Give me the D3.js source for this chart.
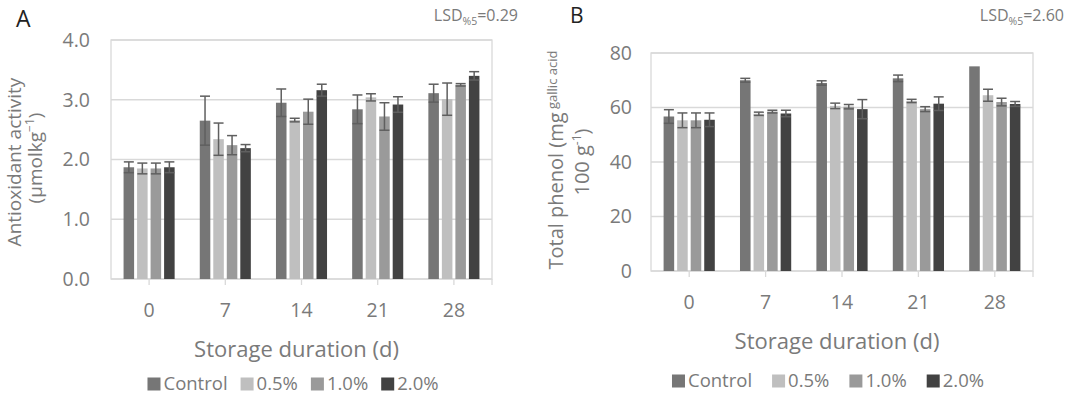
<!DOCTYPE html>
<html>
<head>
<meta charset="utf-8">
<script src="https://cdn.jsdelivr.net/npm/d3@7"></script>
<style>
  body { margin: 0; background: #fff; }
  svg { font-family: "Open Sans", sans-serif; }
</style>
</head>
<body>
<svg id="chart" width="1072" height="396"></svg>
<script>
// storage days (categories) and treatments (series)
const days = ['0', '7', '14', '21', '28'];
const treatments = ['Control', '0.5%', '1.0%', '2.0%'];

// A - antioxidant activity (µmol kg-1)
const antioxControl = [1.87, 2.65, 2.95, 2.84, 3.11];
const antioxHalf    = [1.85, 2.34, 2.66, 3.04, 3.01];
const antioxOne     = [1.85, 2.24, 2.80, 2.72, 3.25];
const antioxTwo     = [1.87, 2.19, 3.16, 2.92, 3.40];
const antioxErrControl = [0.09, 0.41, 0.23, 0.24, 0.15];
const antioxErrHalf    = [0.09, 0.27, 0.03, 0.06, 0.27];
const antioxErrOne     = [0.09, 0.16, 0.21, 0.23, 0.02];
const antioxErrTwo     = [0.09, 0.06, 0.10, 0.13, 0.07];
const antioxTicks = [0, 1, 2, 3, 4];

// B - total phenol (mg gallic acid 100 g-1)
const phenolControl = [56.7, 70.0, 69.0, 70.7, 75.1];
const phenolHalf    = [55.3, 57.7, 60.6, 62.4, 64.5];
const phenolOne     = [55.3, 58.5, 60.3, 59.4, 62.0];
const phenolTwo     = [55.5, 57.8, 59.4, 61.4, 61.3];
const phenolErrControl = [2.5, 0.7, 0.8, 1.2, 0];
const phenolErrHalf    = [2.7, 0.6, 1.0, 0.6, 2.2];
const phenolErrOne     = [2.7, 0.5, 0.8, 0.9, 1.4];
const phenolErrTwo     = [2.5, 1.2, 3.5, 2.5, 0.9];
const phenolTicks = [0, 20, 40, 60, 80];

const colors = ['#767676', '#bfbfbf', '#9a9a9a', '#424242'];
const textCol = '#7a7a7a';

const svg = d3.select('#chart');

function buildRows(vals, errs) {
    // one row per day, with values per treatment
    return days.map((d, i) => ({
        day: d,
        items: treatments.map((t, k) => ({ t: t, v: vals[k][i], e: errs[k][i] }))
    }));
}

function drawPanel(cfg) {
    const g = svg.append('g');
    const x0 = d3.scaleBand().domain(days).range([cfg.left, cfg.right]);
    const x1 = d3.scaleBand().domain(treatments).range([0, x0.bandwidth()])
        .paddingInner(0.22).paddingOuter(0.93);
    const y = d3.scaleLinear().domain([0, cfg.max]).range([cfg.bottom, cfg.top]);
    const color = d3.scaleOrdinal().domain(treatments).range(colors);

    // grid + frame
    g.selectAll('line.grid').data(cfg.ticks).enter().append('line')
        .attr('x1', cfg.left).attr('x2', cfg.right)
        .attr('y1', d => y(d)).attr('y2', d => y(d))
        .attr('stroke', '#d9d9d9').attr('stroke-width', 1.3);
    g.append('rect')
        .attr('x', cfg.left).attr('y', cfg.top)
        .attr('width', cfg.right - cfg.left).attr('height', cfg.bottom - cfg.top)
        .attr('fill', 'none').attr('stroke', '#d9d9d9').attr('stroke-width', 1.3);

    // small ticks under the axis
    g.selectAll('line.xt').data(days).enter().append('line')
        .attr('x1', d => x0(d) + x0.bandwidth() / 2).attr('x2', d => x0(d) + x0.bandwidth() / 2)
        .attr('y1', cfg.bottom).attr('y2', cfg.bottom + 6)
        .attr('stroke', '#d9d9d9').attr('stroke-width', 1.3);
    g.append('line')
        .attr('x1', cfg.right).attr('x2', cfg.right)
        .attr('y1', cfg.bottom).attr('y2', cfg.bottom + 6)
        .attr('stroke', '#d9d9d9').attr('stroke-width', 1.3);

    const groups = g.selectAll('g.grp').data(cfg.rows).enter().append('g')
        .attr('transform', d => 'translate(' + x0(d.day) + ',0)');

    groups.selectAll('rect').data(d => d.items).enter().append('rect')
        .attr('x', d => x1(d.t)).attr('width', x1.bandwidth())
        .attr('y', d => y(d.v)).attr('height', d => y(0) - y(d.v))
        .attr('fill', d => color(d.t));

    // error bars
    const eb = groups.selectAll('g.err').data(d => d.items.filter(it => it.e > 0)).enter().append('g')
        .attr('stroke', '#5f5f5f').attr('stroke-width', 1.5);
    const cx = d => x1(d.t) + x1.bandwidth() / 2;
    eb.append('line').attr('x1', cx).attr('x2', cx)
        .attr('y1', d => y(d.v - d.e)).attr('y2', d => y(d.v + d.e));
    eb.append('line').attr('x1', d => cx(d) - 5).attr('x2', d => cx(d) + 5)
        .attr('y1', d => y(d.v + d.e)).attr('y2', d => y(d.v + d.e));
    eb.append('line').attr('x1', d => cx(d) - 5).attr('x2', d => cx(d) + 5)
        .attr('y1', d => y(d.v - d.e)).attr('y2', d => y(d.v - d.e));

    // y tick labels
    g.selectAll('text.yt').data(cfg.ticks).enter().append('text')
        .attr('x', cfg.left - cfg.yLabelGap).attr('y', d => y(d))
        .attr('dy', '0.35em').attr('text-anchor', 'end')
        .attr('font-size', 19.5).attr('fill', textCol)
        .text(d => d3.format(cfg.fmt)(d));

    // x tick labels
    g.selectAll('text.xl').data(days).enter().append('text')
        .attr('x', d => x0(d) + x0.bandwidth() / 2).attr('y', cfg.bottom + 31)
        .attr('dy', '0.35em').attr('text-anchor', 'middle')
        .attr('font-size', 19.5).attr('fill', textCol)
        .text(d => d);

    g.append('text')
        .attr('x', (cfg.left + cfg.right) / 2 - 5).attr('y', cfg.bottom + 70)
        .attr('dy', '0.35em').attr('text-anchor', 'middle')
        .attr('font-size', 22).attr('fill', textCol)
        .text('Storage duration (d)');

    // legend
    const leg = g.append('g');
    let lx = 0;
    treatments.forEach(t => {
        const it = leg.append('g').attr('transform', 'translate(' + lx + ',0)');
        it.append('rect').attr('x', 0).attr('y', -6.5).attr('width', 13).attr('height', 13)
            .attr('fill', color(t));
        const tx = it.append('text').attr('x', 16).attr('y', 0).attr('dy', '0.35em')
            .attr('font-size', 18.5).attr('fill', textCol).text(t);
        lx += 16 + tx.node().getComputedTextLength() + cfg.legGap;
    });
    const legW = lx - cfg.legGap;
    leg.attr('transform', 'translate(' + (cfg.legCenter - legW / 2) + ',' + (cfg.bottom + cfg.legDy) + ')');

    // panel letter and LSD
    g.append('text').attr('x', cfg.letterX).attr('y', cfg.letterY)
        .attr('font-size', cfg.letterSize).attr('fill', '#222').text(cfg.letter);
    const lsd = g.append('text').attr('x', cfg.lsdX).attr('y', cfg.lsdY)
        .attr('text-anchor', 'end').attr('font-size', 16).attr('fill', textCol);
    lsd.append('tspan').text('LSD');
    lsd.append('tspan').attr('font-size', 10.5).attr('dy', 4).text('%5');
    lsd.append('tspan').attr('dy', -4).text('=' + cfg.lsd);

    return g;
}

const gA = drawPanel({
    left: 111, right: 492, top: 40, bottom: 279, max: 4,
    ticks: antioxTicks, fmt: '.1f', yLabelGap: 21,
    rows: buildRows([antioxControl, antioxHalf, antioxOne, antioxTwo],
        [antioxErrControl, antioxErrHalf, antioxErrOne, antioxErrTwo]),
    legCenter: 293, legDy: 105, legGap: 13,
    letter: 'A', letterX: 16, letterY: 27, letterSize: 23,
    lsd: '0.29', lsdX: 518, lsdY: 21
});

const gB = drawPanel({
    left: 651, right: 1033, top: 53, bottom: 271, max: 80,
    ticks: phenolTicks, fmt: 'd', yLabelGap: 19,
    rows: buildRows([phenolControl, phenolHalf, phenolOne, phenolTwo],
        [phenolErrControl, phenolErrHalf, phenolErrOne, phenolErrTwo]),
    legCenter: 828, legDy: 110, legGap: 20,
    letter: 'B', letterX: 570, letterY: 23, letterSize: 21,
    lsd: '2.60', lsdX: 1064, lsdY: 21
});

// y axis titles (rotated)
gA.append('text').attr('transform', 'translate(21,162) rotate(-90)')
    .attr('text-anchor', 'middle').attr('font-size', 19).attr('fill', textCol)
    .text('Antioxidant activity');
const tA2 = gA.append('text').attr('transform', 'translate(42,158) rotate(-90)')
    .attr('text-anchor', 'middle').attr('font-size', 19).attr('fill', textCol);
tA2.append('tspan').text('(µmolkg');
tA2.append('tspan').attr('font-size', 12).attr('dy', -8).text('−1');
tA2.append('tspan').attr('dy', 8).text(')');

const tB1 = gB.append('text').attr('transform', 'translate(563,160) rotate(-90)')
    .attr('text-anchor', 'middle').attr('font-size', 20).attr('fill', textCol);
tB1.append('tspan').text('Total phenol (mg');
tB1.append('tspan').attr('font-size', 13).attr('dy', -6).text(' gallic acid');
const tB2 = gB.append('text').attr('transform', 'translate(589,162) rotate(-90)')
    .attr('text-anchor', 'middle').attr('font-size', 20).attr('fill', textCol);
tB2.append('tspan').text('100 g');
tB2.append('tspan').attr('font-size', 12).attr('dy', -8).text('-1');
tB2.append('tspan').attr('dy', 8).text(')');
</script>
</body>
</html>
